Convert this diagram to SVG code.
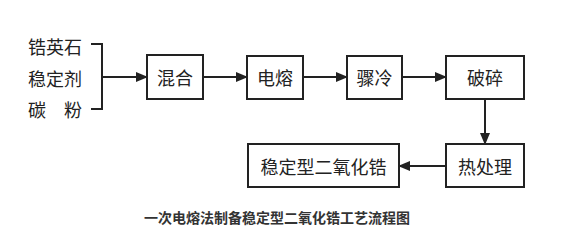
<svg xmlns="http://www.w3.org/2000/svg" width="567" height="233" viewBox="0 0 567 233">
<style>
.box{fill:#fff;stroke:#222;stroke-width:2}
.t{font-family:"Noto Sans CJK SC","Noto Sans",sans-serif;font-size:18px;fill:#222;dominant-baseline:central}
.c{text-anchor:middle}
.ln{stroke:#222;stroke-width:2;fill:none}
.cap{font-family:"Noto Sans CJK SC",sans-serif;font-size:14px;font-weight:bold;fill:#333;text-anchor:middle;dominant-baseline:central}
</style>
<defs>
<marker id="ah" markerWidth="12" markerHeight="10" refX="11" refY="5" orient="auto" markerUnits="userSpaceOnUse">
<path d="M0,0 L12,5 L0,10 Z" fill="#222"/>
</marker>
</defs>
<rect width="567" height="233" fill="#fff"/>
<g id="inputs">
<text class="t" x="28" y="46">锆英石</text>
<text class="t" x="28" y="78">稳定剂</text>
<text class="t" x="28" y="109">碳　粉</text>
</g>
<g id="connectors">
<path class="ln" d="M91,44 H102 V109 H91"/>
<line class="ln" x1="102" y1="77" x2="147" y2="77" marker-end="url(#ah)"/>
<line class="ln" x1="203" y1="77" x2="247" y2="77" marker-end="url(#ah)"/>
<line class="ln" x1="303" y1="77" x2="347" y2="77" marker-end="url(#ah)"/>
<line class="ln" x1="402" y1="77" x2="446" y2="77" marker-end="url(#ah)"/>
<line class="ln" x1="485" y1="99" x2="485" y2="144" marker-end="url(#ah)"/>
<line class="ln" x1="446" y1="166" x2="399" y2="166" marker-end="url(#ah)"/>
</g>
<g id="mix"><rect class="box" x="147" y="55" width="56" height="44"/><text class="t c" x="175" y="77">混合</text></g>
<g id="melt"><rect class="box" x="247" y="56" width="56" height="43"/><text class="t c" x="275" y="77">电熔</text></g>
<g id="quench"><rect class="box" x="347" y="56" width="55" height="43"/><text class="t c" x="374.5" y="77">骤冷</text></g>
<g id="crush"><rect class="box" x="446" y="56" width="78" height="43"/><text class="t c" x="485" y="77">破碎</text></g>
<g id="heat"><rect class="box" x="446" y="144" width="78" height="43"/><text class="t c" x="485" y="166">热处理</text></g>
<g id="product"><rect class="box" x="248" y="144" width="151" height="43"/><text class="t c" x="323.5" y="166">稳定型二氧化锆</text></g>
<text class="cap" x="277" y="217">一次电熔法制备稳定型二氧化锆工艺流程图</text>
</svg>
